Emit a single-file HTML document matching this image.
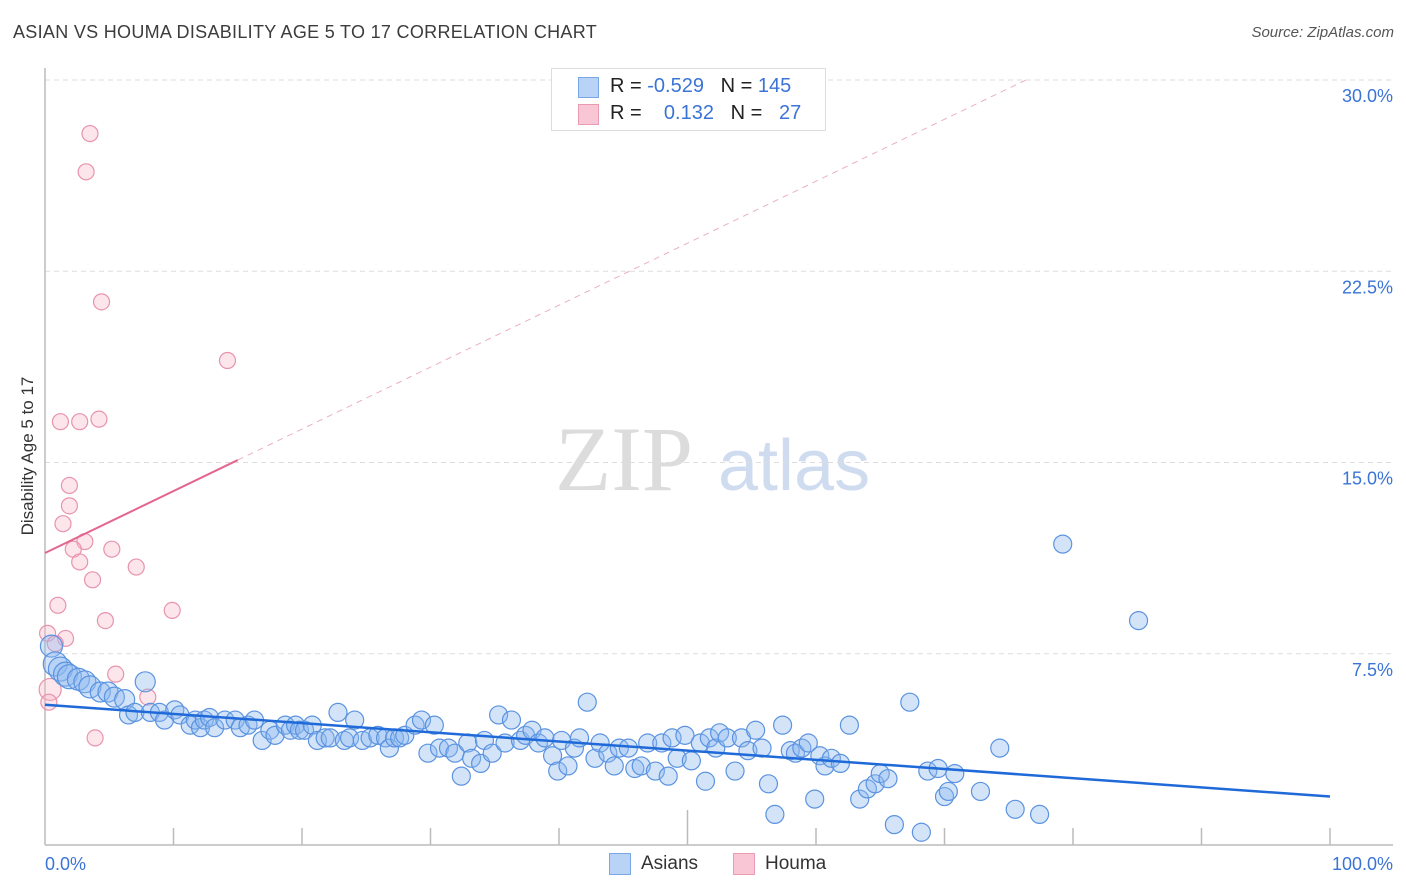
<!DOCTYPE html>
<html><head><meta charset="utf-8"><style>
body{margin:0;background:#fff;font-family:"Liberation Sans",sans-serif;}
#wrap{position:relative;width:1406px;height:892px;overflow:hidden;}
.t{position:absolute;white-space:nowrap;}
</style></head><body>
<div id="wrap">
<div class="t" style="left:13px;top:22px;font-size:18px;color:#3c3c3c;letter-spacing:0.3px">ASIAN VS HOUMA DISABILITY AGE 5 TO 17 CORRELATION CHART</div>
<div class="t" style="right:12px;top:24px;font-size:15px;color:#555;font-style:italic">Source: ZipAtlas.com</div>
<svg id="svg" width="1406" height="892" style="position:absolute;left:0;top:0"></svg>
</div>
<script>
const yTicks=[7.5,15,22.5,30];
const yTickLabels=["7.5%","15.0%","22.5%","30.0%"];
const xTickLabels=["0.0%","100.0%"];
const asianX=[0.5,0.8,1.2,1.6,1.9,2.6,3.1,3.5,4.3,4.9,5.4,6.2,7.8,6.5,7.0,8.2,8.9,9.3,10.1,10.5,11.3,11.7,12.1,12.4,12.8,13.2,14.0,14.8,15.2,15.8,16.3,16.9,17.5,17.9,18.7,19.1,19.5,19.8,20.2,20.8,21.2,21.8,22.2,22.8,23.3,23.7,24.1,24.7,25.3,25.9,26.5,26.8,27.2,27.6,28.0,28.8,29.3,30.3,29.8,30.7,31.4,31.9,32.4,32.9,33.2,33.9,34.2,34.8,35.3,35.8,36.3,37.0,37.4,37.9,38.4,38.9,39.5,39.9,40.2,40.7,41.2,41.6,42.2,42.8,43.2,43.8,44.3,44.7,45.4,45.9,46.4,46.9,47.5,48.0,48.5,48.8,49.2,49.8,50.3,51.0,51.4,51.7,52.2,52.5,53.1,53.7,54.2,54.7,55.3,55.8,56.3,56.8,57.4,58.0,58.4,58.9,59.4,59.9,60.3,60.7,61.2,61.9,62.6,63.4,64.0,64.6,65.0,65.6,66.1,67.3,68.2,68.7,69.5,70.0,70.3,70.8,72.8,74.3,75.5,77.4,79.2,85.1];
const asianY=[7.8,7.1,6.9,6.7,6.6,6.5,6.4,6.2,6.0,6.0,5.8,5.7,6.4,5.1,5.2,5.2,5.2,4.9,5.3,5.1,4.7,4.9,4.6,4.9,5.0,4.6,4.9,4.9,4.6,4.7,4.9,4.1,4.5,4.3,4.7,4.5,4.7,4.5,4.5,4.7,4.1,4.2,4.2,5.2,4.1,4.2,4.9,4.1,4.2,4.3,4.2,3.8,4.2,4.2,4.3,4.7,4.9,4.7,3.6,3.8,3.8,3.6,2.7,4.0,3.4,3.2,4.1,3.6,5.1,4.0,4.9,4.1,4.3,4.5,4.0,4.2,3.5,2.9,4.1,3.1,3.8,4.2,5.6,3.4,4.0,3.6,3.1,3.8,3.8,3.0,3.1,4.0,2.9,4.0,2.7,4.2,3.4,4.3,3.3,4.0,2.5,4.2,3.8,4.4,4.2,2.9,4.2,3.7,4.5,3.8,2.4,1.2,4.7,3.7,3.6,3.8,4.0,1.8,3.5,3.1,3.4,3.2,4.7,1.8,2.2,2.4,2.8,2.6,0.8,5.6,0.5,2.9,3.0,1.9,2.1,2.8,2.1,3.8,1.4,1.2,11.8,8.8];
const asianR=[11,12,12,12,12,11,11,11,10,10,10,10,10,9,9,9,9,9,9,9,9,9,9,9,9,9,9,9,9,9,9,9,9,9,9,9,9,9,9,9,9,9,9,9,9,9,9,9,9,9,9,9,9,9,9,9,9,9,9,9,9,9,9,9,9,9,9,9,9,9,9,9,9,9,9,9,9,9,9,9,9,9,9,9,9,9,9,9,9,9,9,9,9,9,9,9,9,9,9,9,9,9,9,9,9,9,9,9,9,9,9,9,9,9,9,9,9,9,9,9,9,9,9,9,9,9,9,9,9,9,9,9,9,9,9,9,9,9,9,9,9,9];
const houmaX=[3.5,3.2,4.4,14.2,4.2,1.2,2.7,1.9,1.9,1.4,3.1,2.2,5.2,2.7,3.7,7.1,1.0,9.9,4.7,0.2,1.6,0.8,5.5,8.0,3.9,0.4,0.3];
const houmaY=[27.9,26.4,21.3,19.0,16.7,16.6,16.6,14.1,13.3,12.6,11.9,11.6,11.6,11.1,10.4,10.9,9.4,9.2,8.8,8.3,8.1,7.9,6.7,5.8,4.2,6.1,5.6];
const houmaR=[8,8,8,8,8,8,8,8,8,8,8,8,8,8,8,8,8,8,8,8,8,8,8,8,8,11,8];
const asianTrend=[5.5,1.9];
const houmaTrend=[11.45,0.243];

const svg=document.getElementById('svg');
const NS='http://www.w3.org/2000/svg';
const X=v=>45+v*12.85, Y=v=>845-v*25.5;
function mk(tag,attrs,parent){const e=document.createElementNS(NS,tag);for(const k in attrs)e.setAttribute(k,attrs[k]);(parent||svg).appendChild(e);return e;}
let wm=mk('text',{x:555,y:490,'font-family':'Liberation Serif,serif','font-size':92,fill:'#dcdcdc'});wm.textContent='ZIP';


let wm2=mk('text',{x:718,y:490,'font-family':'Liberation Sans,sans-serif','font-size':72,fill:'#cfdcf0'});wm2.textContent='atlas';


yTicks.forEach((t,i)=>{
 const g=mk('line',{x1:45,x2:1393,y1:Y(t),y2:Y(t),stroke:'#ddd','stroke-dasharray':'5,4'});
 
 
 const l=mk('text',{x:1393,y:Y(t)+22,'text-anchor':'end','font-size':18,fill:'#3a74d6','font-family':'Liberation Sans,sans-serif'});
 l.textContent=yTickLabels[i];
 
 
});
let ax=mk('line',{x1:45,x2:1393,y1:845,y2:845,stroke:'#bbb','stroke-width':1.5});


let ay=mk('line',{x1:45,x2:45,y1:68,y2:845,stroke:'#bbb','stroke-width':1.5});


for(let i=1;i<=10;i++){
 const tk=mk('line',{x1:X(i*10),x2:X(i*10),y1:i==5?810:828,y2:845,stroke:'#bbb','stroke-width':1.5});
 
 
}
[[0,'start'],[100,'end']].forEach((p,i)=>{
 const l=mk('text',{x:X(p[0])+(i?63:0),y:870,'text-anchor':p[1],'font-size':18,fill:'#3a74d6','font-family':'Liberation Sans,sans-serif'});
 l.textContent=xTickLabels[i];
 
 
});
let yt=mk('text',{x:33,y:456,'text-anchor':'middle','font-size':17,fill:'#333',transform:'rotate(-90 33 456)','font-family':'Liberation Sans,sans-serif'});
yt.textContent='Disability Age 5 to 17';


houmaX.forEach((x,i)=>{
 const c=mk('circle',{cx:X(x),cy:Y(houmaY[i]),r:houmaR[i],fill:'rgba(248,180,200,0.35)',stroke:'#e893ad','stroke-width':1.2});
 
 
});
asianX.forEach((x,i)=>{
 const c=mk('circle',{cx:X(x),cy:Y(asianY[i]),r:asianR[i],fill:'rgba(140,185,240,0.38)',stroke:'#5b93e0','stroke-width':1.2});
 
 
});
const hTop=30.0;
const hEnd=(hTop-houmaTrend[0])/houmaTrend[1];
let hd=mk('line',{x1:X(15),y1:Y(houmaTrend[0]+houmaTrend[1]*15),x2:X(hEnd),y2:Y(hTop),stroke:'#eab0c2','stroke-width':1,'stroke-dasharray':'6,5'});


let hs=mk('line',{x1:X(0),y1:Y(houmaTrend[0]),x2:X(15),y2:Y(houmaTrend[0]+houmaTrend[1]*15),stroke:'#e4658f','stroke-width':2});


let at=mk('line',{x1:X(0),y1:Y(asianTrend[0]),x2:X(100),y2:Y(asianTrend[1]),stroke:'#1f6ad8','stroke-width':2.5});


</script>
<div class="t" style="left:551px;top:68px;width:273px;height:61px;background:#fff;border:1px solid #ddd">
 <div style="position:absolute;left:26px;top:8px;width:19px;height:19px;background:#b8d3f5;border:1px solid #7aa7e6"></div>
 <div style="position:absolute;left:26px;top:35px;width:19px;height:19px;background:#f8c6d5;border:1px solid #eb9ab4"></div>
 <div class="t" style="left:58px;top:6px;font-size:20px;color:#222">R = <span style="color:#3a74d6">-0.529</span>&nbsp;&nbsp;&nbsp;N = <span style="color:#3a74d6">145</span></div>
 <div class="t" style="left:58px;top:33px;font-size:20px;color:#222">R = &nbsp;&nbsp;&nbsp;<span style="color:#3a74d6">0.132</span>&nbsp;&nbsp;&nbsp;N = &nbsp;&nbsp;<span style="color:#3a74d6">27</span></div>
</div>
<div class="t" style="left:609px;top:853px;width:20px;height:20px;background:#b8d3f5;border:1px solid #7aa7e6"></div>
<div class="t" style="left:641px;top:853px;font-size:19px;color:#333">Asians</div>
<div class="t" style="left:733px;top:853px;width:20px;height:20px;background:#f8c6d5;border:1px solid #eb9ab4"></div>
<div class="t" style="left:765px;top:853px;font-size:19px;color:#333">Houma</div>
</body></html>
